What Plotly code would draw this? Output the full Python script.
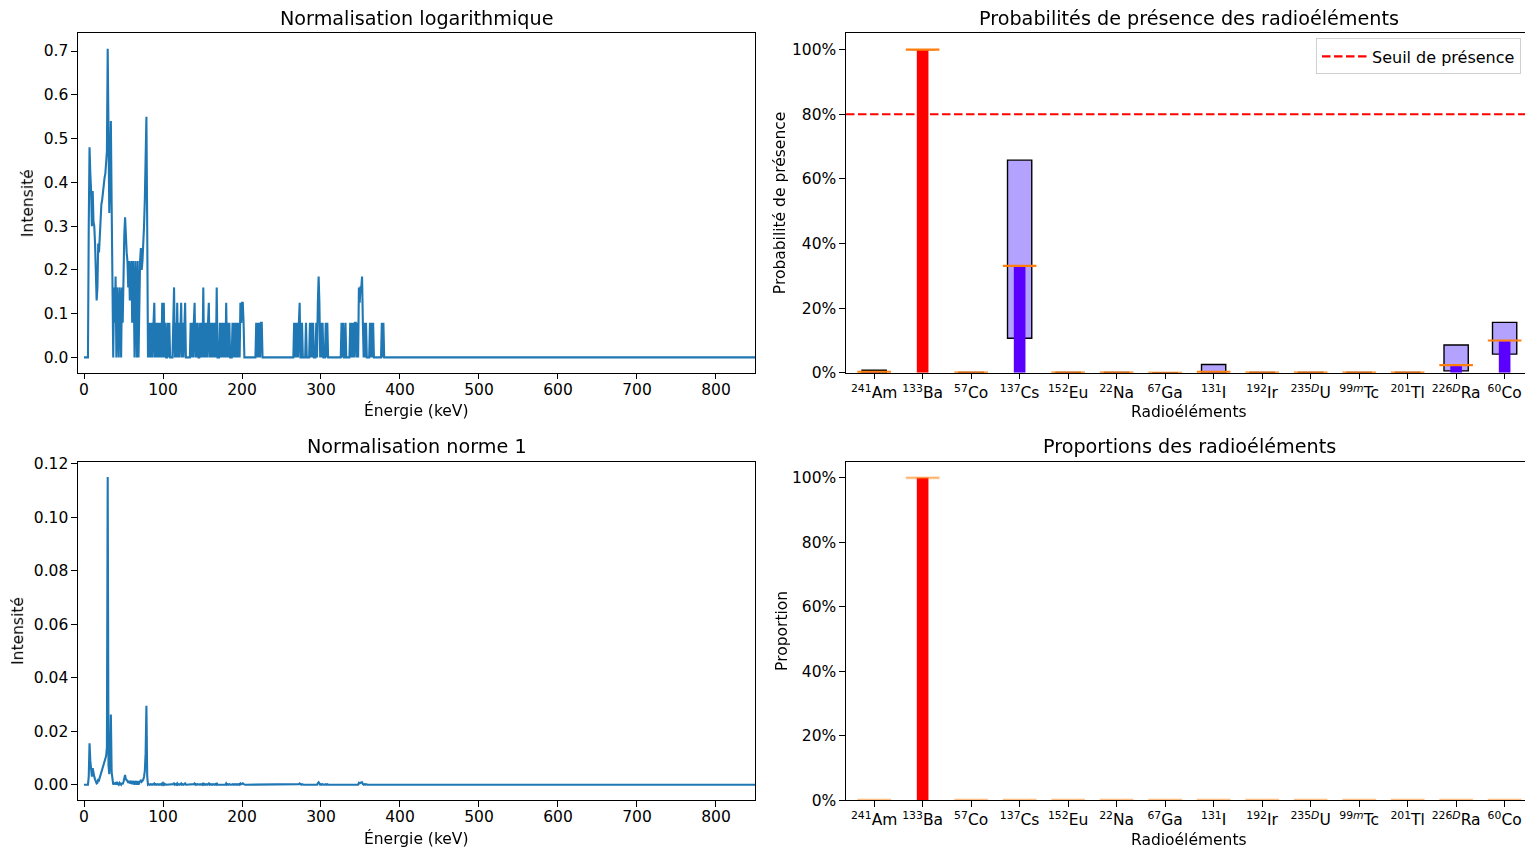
import plotly.graph_objects as go

# ---------------- Spectre (canaux de 1 keV, 0 à 390 keV, puis 850 keV) ----------------
energie_keV = list(range(0, 391)) + [850]

intensite_log = [
    0, 0, 0, 0, 0, 0, 0.30, 0.48, 0.42, 0.38,                     # 0-9
    0.30, 0.38, 0.31, 0.30, 0.26, 0.21, 0.13, 0.16, 0.26, 0.24,   # 10-19
    0.29, 0.32, 0.35, 0.36, 0.38, 0.39, 0.41, 0.42, 0.44, 0.47,   # 20-29
    0.705, 0.40, 0.33, 0.42, 0.54, 0.35, 0.16, 0, 0.16, 0.079,    # 30-39
    0.185, 0, 0.16, 0.079, 0, 0.16, 0.125, 0, 0.16, 0.079,        # 40-49
    0.20, 0.28, 0.32, 0.26, 0.24, 0.22, 0.16, 0.22, 0.13, 0.20,   # 50-59
    0.22, 0.079, 0.22, 0.16, 0, 0.22, 0.16, 0, 0.22, 0,           # 60-69
    0.16, 0.22, 0.25, 0.20, 0.22, 0.25, 0.30, 0.36, 0.45, 0.55,   # 70-79
    0.30, 0, 0.079, 0, 0.079, 0, 0.079, 0, 0.079, 0.125,          # 80-89
    0, 0.079, 0, 0.079, 0, 0.079, 0, 0.079, 0, 0.125,             # 90-99
    0, 0.125, 0, 0.079, 0, 0, 0.079, 0, 0.079, 0,                 # 100-109
    0, 0, 0, 0.079, 0.16, 0, 0.079, 0, 0.125, 0,                  # 110-119
    0.079, 0, 0.079, 0.125, 0, 0.079, 0, 0.079, 0.125, 0,         # 120-129
    0, 0, 0, 0, 0, 0.079, 0, 0.079, 0, 0.079,                     # 130-139
    0.125, 0, 0.079, 0, 0.079, 0, 0, 0.079, 0, 0.079,             # 140-149
    0, 0.16, 0, 0.079, 0, 0.079, 0, 0.079, 0.125, 0,              # 150-159
    0.079, 0, 0.079, 0, 0.079, 0, 0.079, 0, 0.16, 0,              # 160-169
    0, 0, 0.079, 0, 0.079, 0, 0.079, 0, 0.079, 0,                 # 170-179
    0.125, 0, 0.079, 0, 0.079, 0, 0, 0, 0.079, 0,                 # 180-189
    0.079, 0, 0.079, 0, 0.079, 0, 0.079, 0, 0.125, 0.079,         # 190-199
    0.125, 0.125, 0.079, 0, 0, 0, 0, 0, 0, 0,                     # 200-209
    0, 0, 0, 0, 0, 0, 0, 0, 0.079, 0,                             # 210-219
    0.079, 0, 0.079, 0, 0.079, 0.079, 0, 0, 0, 0,                 # 220-229
    0, 0, 0, 0, 0, 0, 0, 0, 0, 0,                                 # 230-239
    0, 0, 0, 0, 0, 0, 0, 0, 0, 0,                                 # 240-249
    0, 0, 0, 0, 0, 0, 0, 0, 0, 0,                                 # 250-259
    0, 0, 0, 0, 0, 0, 0.079, 0, 0.079, 0,                         # 260-269
    0.079, 0, 0.079, 0.125, 0, 0, 0.079, 0, 0, 0,                 # 270-279
    0, 0.079, 0, 0, 0, 0, 0.079, 0, 0.079, 0,                     # 280-289
    0.079, 0, 0, 0, 0.079, 0, 0.125, 0.185, 0.125, 0,             # 290-299
    0.079, 0, 0.079, 0, 0, 0, 0.079, 0, 0.079, 0,                 # 300-309
    0, 0, 0, 0, 0, 0, 0, 0, 0, 0,                                 # 310-319
    0, 0, 0, 0, 0, 0, 0.079, 0, 0.079, 0,                         # 320-329
    0, 0.079, 0, 0, 0, 0, 0, 0.079, 0, 0.079,                     # 330-339
    0, 0.079, 0, 0.079, 0.079, 0, 0.079, 0, 0.16, 0.125,          # 340-349
    0.16, 0.16, 0.185, 0.079, 0, 0.079, 0, 0.079, 0, 0,           # 350-359
    0, 0, 0.079, 0, 0.079, 0, 0.079, 0, 0, 0,                     # 360-369
    0, 0, 0, 0, 0, 0, 0, 0.079, 0, 0.079,                         # 370-379
    0, 0, 0, 0, 0, 0, 0, 0, 0, 0,                                 # 380-389
    0,                                                            # 390
    0,                                                            # 850
]

intensite_norme1 = [
    0, 0, 0, 0, 0, 0, 0.0030, 0.0155, 0.0089, 0.0062,
    0.0030, 0.0062, 0.0033, 0.0030, 0.0020, 0.0012, 0.0005, 0.0007, 0.0020, 0.0017,
    0.0027, 0.0036, 0.0047, 0.0052, 0.0062, 0.0068, 0.0081, 0.0089, 0.0107, 0.0140,
    0.1150, 0.0074, 0.0039, 0.0089, 0.0262, 0.0047, 0.0007, 0, 0.0007, 0.0002,
    0.0009, 0, 0.0007, 0.0002, 0, 0.0007, 0.0005, 0, 0.0007, 0.0002,
    0.0011, 0.0025, 0.0036, 0.0020, 0.0017, 0.0014, 0.0007, 0.0014, 0.0005, 0.0011,
    0.0014, 0.0002, 0.0014, 0.0007, 0, 0.0014, 0.0007, 0, 0.0014, 0,
    0.0007, 0.0014, 0.0018, 0.0011, 0.0014, 0.0018, 0.0030, 0.0052, 0.0117, 0.0295,
    0.0030, 0, 0.0002, 0, 0.0002, 0, 0.0002, 0, 0.0002, 0.0005,
    0, 0.0002, 0, 0.0002, 0, 0.0002, 0, 0.0002, 0, 0.0005,
    0, 0.0005, 0, 0.0002, 0, 0, 0.0002, 0, 0.0002, 0,
    0, 0, 0, 0.0002, 0.0007, 0, 0.0002, 0, 0.0005, 0,
    0.0002, 0, 0.0002, 0.0005, 0, 0.0002, 0, 0.0002, 0.0005, 0,
    0, 0, 0, 0, 0, 0.0002, 0, 0.0002, 0, 0.0002,
    0.0005, 0, 0.0002, 0, 0.0002, 0, 0, 0.0002, 0, 0.0002,
    0, 0.0007, 0, 0.0002, 0, 0.0002, 0, 0.0002, 0.0005, 0,
    0.0002, 0, 0.0002, 0, 0.0002, 0, 0.0002, 0, 0.0007, 0,
    0, 0, 0.0002, 0, 0.0002, 0, 0.0002, 0, 0.0002, 0,
    0.0005, 0, 0.0002, 0, 0.0002, 0, 0, 0, 0.0002, 0,
    0.0002, 0, 0.0002, 0, 0.0002, 0, 0.0002, 0, 0.0005, 0.0002,
    0.0005, 0.0005, 0.0002, 0, 0, 0, 0, 0, 0, 0,
    0, 0, 0, 0, 0, 0, 0, 0, 0.0002, 0,
    0.0002, 0, 0.0002, 0, 0.0002, 0.0002, 0, 0, 0, 0,
    0, 0, 0, 0, 0, 0, 0, 0, 0, 0,
    0, 0, 0, 0, 0, 0, 0, 0, 0, 0,
    0, 0, 0, 0, 0, 0, 0, 0, 0, 0,
    0, 0, 0, 0, 0, 0, 0.0002, 0, 0.0002, 0,
    0.0002, 0, 0.0002, 0.0005, 0, 0, 0.0002, 0, 0, 0,
    0, 0.0002, 0, 0, 0, 0, 0.0002, 0, 0.0002, 0,
    0.0002, 0, 0, 0, 0.0002, 0, 0.0005, 0.0009, 0.0005, 0,
    0.0002, 0, 0.0002, 0, 0, 0, 0.0002, 0, 0.0002, 0,
    0, 0, 0, 0, 0, 0, 0, 0, 0, 0,
    0, 0, 0, 0, 0, 0, 0.0002, 0, 0.0002, 0,
    0, 0.0002, 0, 0, 0, 0, 0, 0.0002, 0, 0.0002,
    0, 0.0002, 0, 0.0002, 0.0002, 0, 0.0002, 0, 0.0007, 0.0005,
    0.0007, 0.0007, 0.0009, 0.0002, 0, 0.0002, 0, 0.0002, 0, 0,
    0, 0, 0.0002, 0, 0.0002, 0, 0.0002, 0, 0, 0,
    0, 0, 0, 0, 0, 0, 0, 0.0002, 0, 0.0002,
    0, 0, 0, 0, 0, 0, 0, 0, 0, 0,
    0,
    0,
]

# ---------------- Radioéléments ----------------
radioelements = [
    "<sup>241</sup>Am", "<sup>133</sup>Ba", "<sup>57</sup>Co", "<sup>137</sup>Cs",
    "<sup>152</sup>Eu", "<sup>22</sup>Na", "<sup>67</sup>Ga", "<sup>131</sup>I",
    "<sup>192</sup>Ir", "<sup>235<i>D</i></sup>U", "<sup>99<i>m</i></sup>Tc",
    "<sup>201</sup>Tl", "<sup>226<i>D</i></sup>Ra", "<sup>60</sup>Co",
]
proba_q1 = [0.0, 1.0, 0.0, 0.107, 0.0, 0.0, 0.0, 0.0, 0.0, 0.0, 0.0, 0.0, 0.006, 0.058]
proba_q3 = [0.008, 1.0, 0.001, 0.658, 0.001, 0.001, 0.0005, 0.026, 0.001, 0.001, 0.001, 0.001, 0.086, 0.156]
proba_mediane = [0.003, 1.0, 0.0005, 0.331, 0.0005, 0.0005, 0.0002, 0.003, 0.0005, 0.0005, 0.0005, 0.0005, 0.024, 0.100]
proba_presence = [0.003, 1.0, 0.0005, 0.330, 0.0005, 0.0005, 0.0002, 0.003, 0.0005, 0.0005, 0.0005, 0.0005, 0.022, 0.098]
proportions = [0.0, 1.0, 0.0, 0.0, 0.0, 0.0, 0.0, 0.0, 0.0, 0.0, 0.0, 0.0, 0.0, 0.0]
seuil_presence = 0.8

# ---------------- Styles ----------------
W, H = 1525, 850
Y_OFF, Y_SPAN = 5.5, 835.5   # zone verticale effectivement rendue
BLEU_MPL = "#1f77b4"
ROUGE = "#ff0000"
VIOLET = "#5a00ff"
VIOLET_CLAIR = "#b4a2ff"
ORANGE = "#ff7f0e"
FONT = "DejaVu Sans"
TICK_SIZE = 15.5
TITLE_SIZE = 19.2

idx = list(range(len(radioelements)))
x_min, x_max = -0.58, len(radioelements) - 0.58
couleurs = [ROUGE if p >= seuil_presence else VIOLET for p in proba_presence]


def px_x(v):
    return v / W


def px_y(v):
    return 1 - (v - Y_OFF) / Y_SPAN


fig = go.Figure()

# spectres
fig.add_trace(go.Scatter(x=energie_keV, y=intensite_log, mode="lines",
                         line=dict(color=BLEU_MPL, width=2.1), showlegend=False,
                         xaxis="x", yaxis="y"))
fig.add_trace(go.Scatter(x=energie_keV, y=intensite_norme1, mode="lines",
                         line=dict(color=BLEU_MPL, width=2.1), showlegend=False,
                         xaxis="x2", yaxis="y2"))

# boîtes des probabilités
fig.add_trace(go.Bar(x=idx, y=[b - a for a, b in zip(proba_q1, proba_q3)], base=proba_q1,
                     width=0.5, marker=dict(color=VIOLET_CLAIR, line=dict(color="black", width=1.4)),
                     showlegend=False, xaxis="x3", yaxis="y3"))
fig.add_trace(go.Bar(x=idx, y=proba_presence, width=0.24,
                     marker=dict(color=couleurs, line=dict(width=0)),
                     showlegend=False, xaxis="x3", yaxis="y3"))
fig.add_trace(go.Scatter(x=idx, y=proba_mediane, mode="markers",
                         marker=dict(symbol="line-ew", size=24, line=dict(color=ORANGE, width=2.2)),
                         showlegend=False, xaxis="x3", yaxis="y3"))
fig.add_trace(go.Scatter(x=[x_min, x_max], y=[seuil_presence, seuil_presence], mode="lines",
                         line=dict(color=ROUGE, width=2.2, dash="8.5px,3.5px"),
                         name="Seuil de présence", showlegend=True, xaxis="x3", yaxis="y3"))

# proportions
fig.add_trace(go.Bar(x=idx, y=proportions, width=0.24,
                     marker=dict(color=couleurs, line=dict(width=0)),
                     showlegend=False, xaxis="x4", yaxis="y4"))
fig.add_trace(go.Scatter(x=idx, y=proportions, mode="markers",
                         marker=dict(symbol="line-ew", size=24, line=dict(color=ORANGE, width=2.2)),
                         opacity=0.6, showlegend=False, xaxis="x4", yaxis="y4"))

ax_common = dict(showgrid=False, zeroline=False, showline=True, linecolor="black", linewidth=1.2,
                 ticks="outside", ticklen=5.5, tickwidth=1.2, tickcolor="black",
                 tickfont=dict(family=FONT, size=TICK_SIZE, color="black"))

dom_left = [px_x(78), px_x(755)]
dom_right = [px_x(846), 1.0]
dom_top = [px_y(372), px_y(32)]
dom_bot = [px_y(800), px_y(461)]

fig.update_layout(
    width=W, height=H, margin=dict(l=0, r=0, t=0, b=0),
    paper_bgcolor="white", plot_bgcolor="white", barmode="overlay",
    font=dict(family=FONT, size=TICK_SIZE, color="black"),
    xaxis=dict(domain=dom_left, anchor="y", range=[-7.6, 849.4], tick0=0, dtick=100, mirror=True,
               ticklabelstandoff=-3, **ax_common),
    yaxis=dict(domain=dom_top, anchor="x", range=[-0.03525, 0.74025], tick0=0, dtick=0.1,
               tickformat=".1f", mirror=True, **ax_common),
    xaxis2=dict(domain=dom_left, anchor="y2", range=[-7.6, 849.4], tick0=0, dtick=100, mirror=True,
                ticklabelstandoff=-3, **ax_common),
    yaxis2=dict(domain=dom_bot, anchor="x2", range=[-0.00575, 0.12075], tick0=0, dtick=0.02,
                tickformat=".2f", mirror=True, **ax_common),
    xaxis3=dict(domain=dom_right, anchor="y3", range=[x_min, x_max], tickmode="array",
                tickvals=idx, ticktext=radioelements, tickangle=0, mirror=True, **ax_common),
    yaxis3=dict(domain=dom_top, anchor="x3", range=[0, 1.05], tick0=0, dtick=0.2,
                tickformat=".0%", mirror=False, **ax_common),
    xaxis4=dict(domain=dom_right, anchor="y4", range=[x_min, x_max], tickmode="array",
                tickvals=idx, ticktext=radioelements, tickangle=0, mirror=True, **ax_common),
    yaxis4=dict(domain=dom_bot, anchor="x4", range=[0, 1.05], tick0=0, dtick=0.2,
                tickformat=".0%", mirror=False, **ax_common),
    legend=dict(x=px_x(1521), y=px_y(37), xanchor="right", yanchor="top", itemwidth=45,
                bgcolor="white", bordercolor="#d0d0d0", borderwidth=1,
                font=dict(family=FONT, size=16, color="black")),
)

annotations = [
    ("Normalisation logarithmique", 416.5, 17, TITLE_SIZE, 0),
    ("Normalisation norme 1", 416.5, 446, TITLE_SIZE, 0),
    ("Probabilités de présence des radioéléments", 1189, 17, TITLE_SIZE, 0),
    ("Proportions des radioéléments", 1189, 446, TITLE_SIZE, 0),
    ("Énergie (keV)", 416.5, 410, TICK_SIZE, 0),
    ("Énergie (keV)", 416.5, 838, TICK_SIZE, 0),
    ("Radioéléments", 1189, 411, TICK_SIZE, 0),
    ("Radioéléments", 1189, 840, TICK_SIZE, 0),
    ("Intensité", 28, 202, TICK_SIZE, -90),
    ("Intensité", 18, 630.5, TICK_SIZE, -90),
    ("Probabilité de présence", 780, 202, TICK_SIZE, -90),
    ("Proportion", 782, 630.5, TICK_SIZE, -90),
]
for txt, x, y, size, ang in annotations:
    fig.add_annotation(text=txt, x=px_x(x), y=px_y(y), xref="paper", yref="paper",
                       xanchor="center", yanchor="middle", showarrow=False, textangle=ang,
                       font=dict(family=FONT, size=size, color="black"))

fig.write_html("out.html")
